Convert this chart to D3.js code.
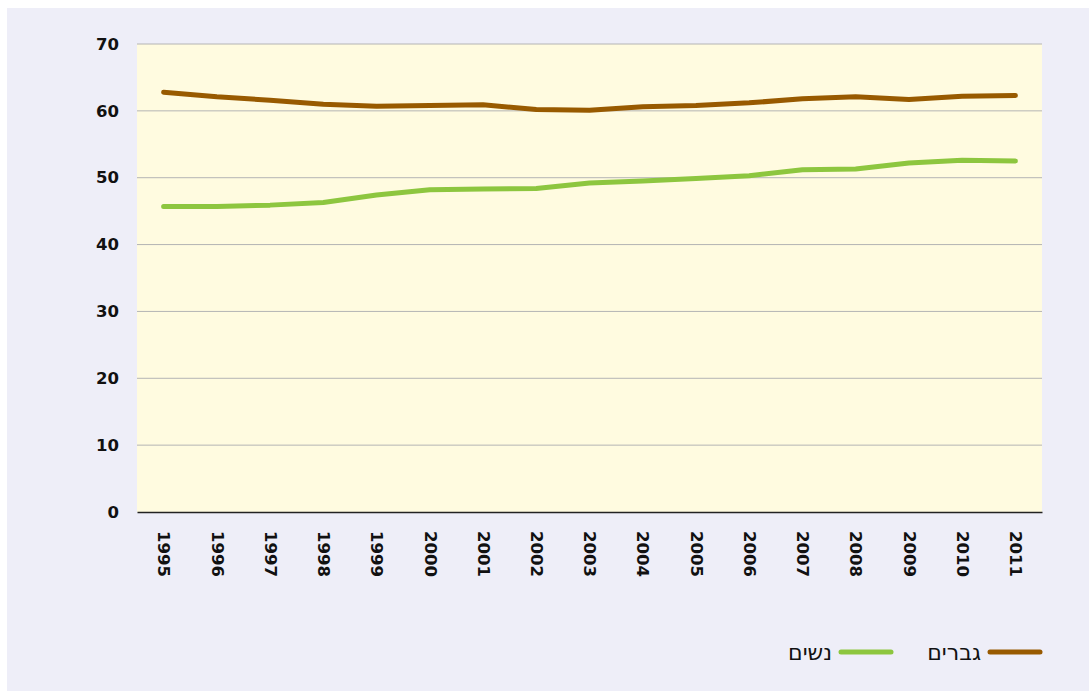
<!DOCTYPE html>
<html>
<head>
<meta charset="utf-8">
<script src="https://cdn.jsdelivr.net/npm/d3@7"></script>
<style>
  body { margin: 0; background: #ffffff; }
  svg { display: block; font-family: "DejaVu Sans", "Noto Sans", sans-serif; }
</style>
</head>
<body>
<svg id="chart" width="1089" height="691"></svg>
<script>
// data
const years = ["1995","1996","1997","1998","1999","2000","2001","2002","2003","2004","2005","2006","2007","2008","2009","2010","2011"];
const men   = [62.8,62.1,61.6,61.0,60.7,60.8,60.9,60.2,60.1,60.6,60.8,61.2,61.8,62.1,61.7,62.2,62.3];
const women = [45.7,45.7,45.9,46.3,47.4,48.2,48.3,48.4,49.2,49.5,49.9,50.3,51.2,51.3,52.2,52.6,52.5];
const yTicks = [0,10,20,30,40,50,60,70];

const series = [
  {name: "גברים", values: men,   color: "#985a00"},
  {name: "נשים",  values: women, color: "#8dc63f"}
];

const svg = d3.select('#chart');
const margin = {top: 44, right: 47, bottom: 179, left: 137};
const width = 1089 - margin.left - margin.right,
      height = 691 - margin.top - margin.bottom;

// outer panel
svg.append('rect')
  .attr('x', 7).attr('y', 8)
  .attr('width', 1082).attr('height', 683)
  .attr('fill', '#eeeef8');

const g = svg.append('g')
  .attr('transform', `translate(${margin.left},${margin.top})`);

// plot background
g.append('rect')
  .attr('width', width).attr('height', height)
  .attr('fill', '#fffbe0');

const x = d3.scalePoint().domain(years).range([0, width]).padding(0.5);
const y = d3.scaleLinear().domain([0, 70]).range([height, 0]);

// gridlines
g.selectAll('line.grid')
  .data(yTicks.filter(d => d > 0))
  .join('line')
  .attr('class', 'grid')
  .attr('x1', 0).attr('x2', width)
  .attr('y1', d => y(d)).attr('y2', d => y(d))
  .attr('stroke', '#b4b4b4')
  .attr('stroke-width', 1);

// y labels
const yAxis = g.append('g')
  .call(d3.axisLeft(y).tickValues(yTicks).tickSize(0).tickPadding(18));
yAxis.select('.domain').remove();
yAxis.selectAll('text')
  .attr('font-size', 16.5).attr('font-weight', 'bold').attr('fill', '#111')
  .style('font-family', '"DejaVu Sans", sans-serif');

// x axis
const xAxis = g.append('g')
  .attr('transform', `translate(0,${height})`)
  .call(d3.axisBottom(x).tickSize(0));
xAxis.select('.domain').attr('stroke', '#222').attr('stroke-width', 1.5);
xAxis.selectAll('.tick text')
  .attr('font-size', 16.5).attr('font-weight', 'bold').attr('fill', '#111')
  .style('font-family', '"DejaVu Sans", sans-serif')
  .attr('transform', 'rotate(90)')
  .attr('x', 19).attr('y', 0).attr('dy', '0.35em')
  .style('text-anchor', 'start');

// lines
const line = d3.line()
  .x((d, i) => x(years[i]))
  .y(d => y(d));

g.selectAll('path.series')
  .data(series)
  .join('path')
  .attr('class', 'series')
  .attr('d', d => line(d.values))
  .attr('fill', 'none')
  .attr('stroke', d => d.color)
  .attr('stroke-width', 5)
  .attr('stroke-linecap', 'round')
  .attr('stroke-linejoin', 'round');

// legend
const legend = svg.append('g').attr('transform', 'translate(0,652)');
const legendX = [990, 841];
series.forEach((s, i) => {
  const lx = legendX[i];
  legend.append('line')
    .attr('x1', lx).attr('x2', lx + 50)
    .attr('y1', 0).attr('y2', 0)
    .attr('stroke', s.color).attr('stroke-width', 5)
    .attr('stroke-linecap', 'round');
  legend.append('text')
    .attr('x', lx - 9).attr('y', 0).attr('dy', '0.35em')
    .attr('text-anchor', 'end')
    .attr('font-size', 22).attr('fill', '#111')
    .text(s.name);
});
</script>
</body>
</html>
